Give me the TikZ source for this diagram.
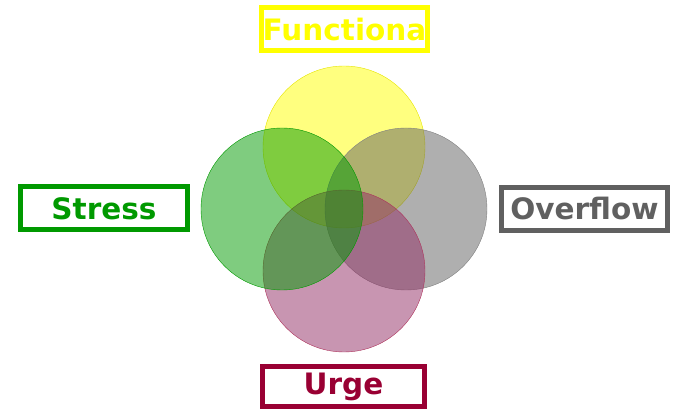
\documentclass[tikz,border=0pt]{standalone}
\usepackage{fontspec}
\setmainfont{DejaVu Sans}
\usepackage{tikz}
\usetikzlibrary{positioning}
\definecolor{func}{RGB}{255,255,0}
\definecolor{stress}{RGB}{0,153,0}
\definecolor{overflow}{RGB}{96,96,96}
\definecolor{urge}{RGB}{153,0,51}
\definecolor{urgefill}{RGB}{146,44,100}

\begin{document}
\begin{tikzpicture}[x=1pt, y=-1pt,
    set/.style={circle, minimum size=162pt, inner sep=0pt, fill opacity=0.5, thin},
    label/.style={draw, line width=5pt, inner sep=0pt, minimum height=43pt, font=\bfseries\fontsize{29.5}{29.5}\selectfont}]
      \useasboundingbox (0,0) rectangle (675,411);

      % the four sets
      \node [set, draw=func!90!black, fill=func] (F) at (344,147) {};
      \node [set, draw=gray, fill=overflow] (O) at (406,209) {};
      \node [set, draw=urge!80, fill=urgefill] (U) at (344,271) {};
      \node [set, draw=stress, fill=stress] (S) at (282,209) {};

      % the labels
      \node [label, draw=func, text=func, minimum width=166pt] (FL) at (344.5,29.5) {Functiona};
      \node [label, draw=stress, text=stress, minimum width=167pt] (SL) at (104,208.5) {Stress};
      \node [label, draw=overflow, text=overflow, minimum width=166pt] (OL) at (584.5,209) {Overflow};
      \node [label, draw=urge, text=urge, minimum width=162pt, minimum height=40pt] (UL) at (343.5,387) {Urge};
\end{tikzpicture}
\end{document}
